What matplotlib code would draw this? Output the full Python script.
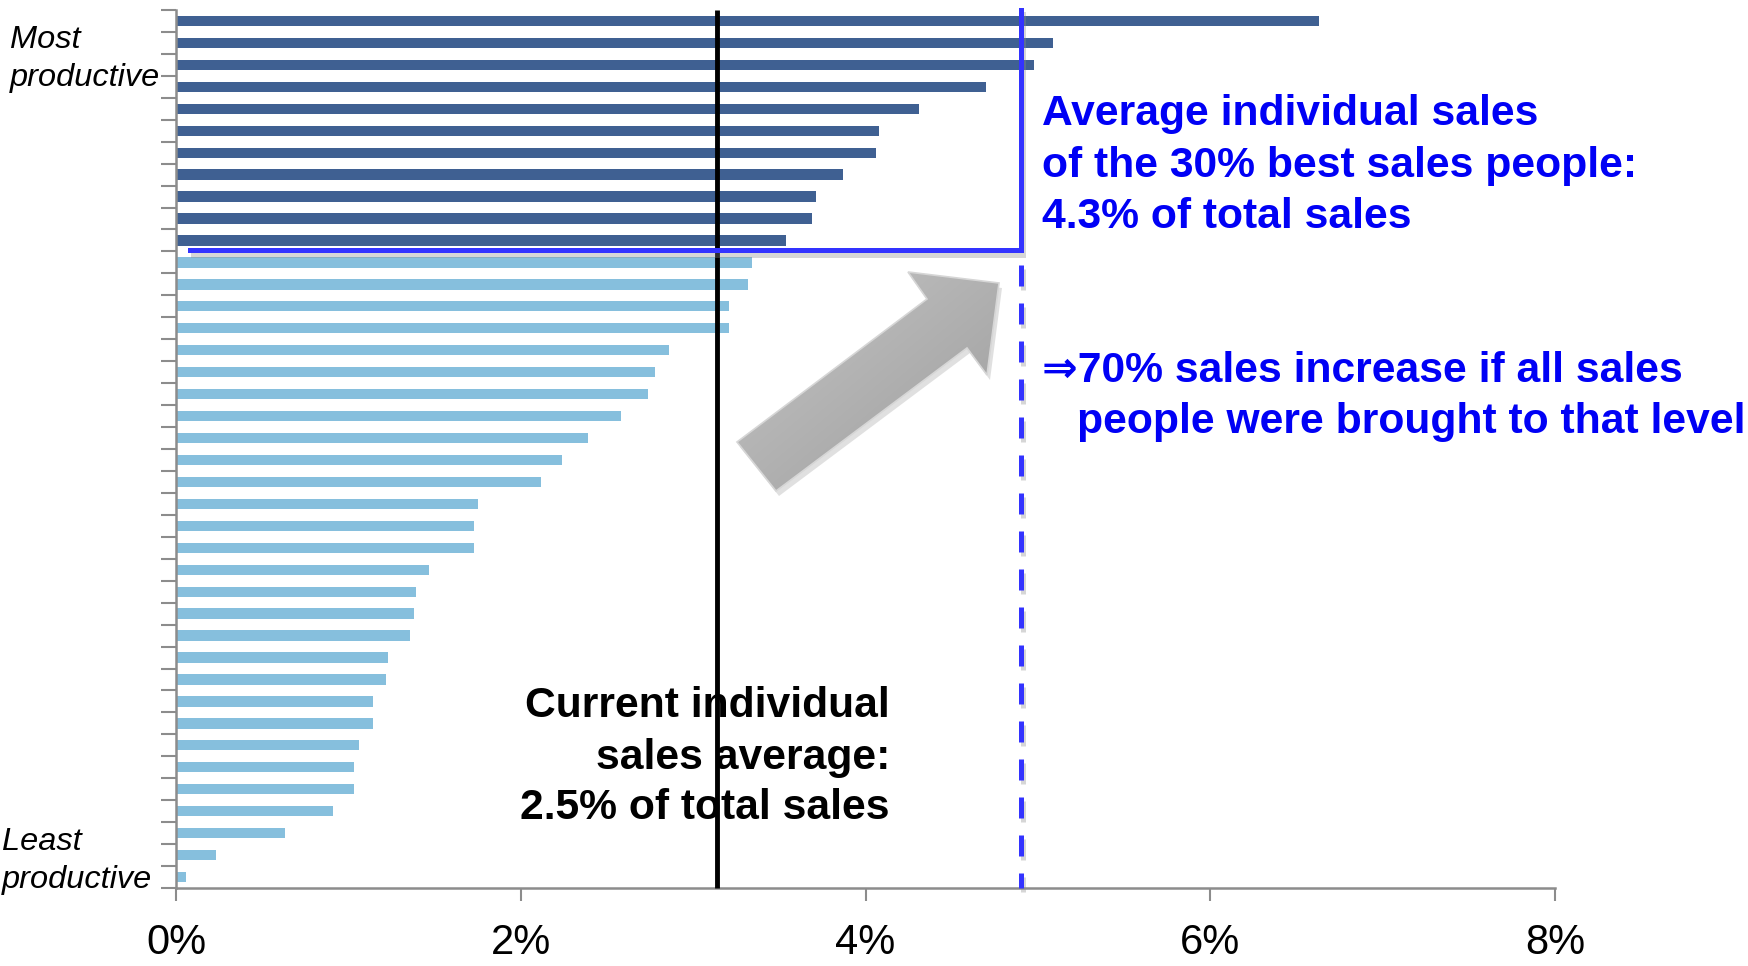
import numpy as np
import matplotlib
matplotlib.use("Agg")
import matplotlib.pyplot as plt
import matplotlib.patheffects as pe
from matplotlib.patches import Polygon

plt.rcParams["font.family"] = ["Liberation Sans", "DejaVu Sans"]

# share of total sales per sales person, most productive first
sales_share = [6.63, 5.09, 4.98, 4.70, 4.31, 4.08, 4.06, 3.87, 3.71, 3.69, 3.54,
               3.34, 3.32, 3.21, 3.21, 2.86, 2.78, 2.74, 2.58, 2.39, 2.24, 2.12,
               1.75, 1.73, 1.73, 1.47, 1.39, 1.38, 1.36, 1.23, 1.22, 1.14, 1.14,
               1.06, 1.03, 1.03, 0.91, 0.63, 0.23, 0.06]
n_top = 11                      # bars shaded dark
x_ticks = [0, 2, 4, 6, 8]
x_ticklabels = ["0%", "2%", "4%", "6%", "8%"]
avg_line = 3.14                 # reference line "current average"
target_line = 4.90              # reference line "top performers"

DARK = "#3f6092"
LIGHT = "#86bfdd"
BLUE = "#3333ff"
TXT_BLUE = "#0000f5"
GRAY = "#8c8c8c"

W, H = 1748, 966
fig = plt.figure(figsize=(W / 100, H / 100), dpi=100)

# overlay in pixel coordinates for free-floating annotations
ov = fig.add_axes([0, 0, 1, 1], zorder=0)
ov.set_xlim(0, W)
ov.set_ylim(H, 0)
ov.axis("off")

ax = fig.add_axes([176 / W, 1 - 888 / H, (1555 - 176) / W, (888 - 10) / H], zorder=1)
ax.patch.set_alpha(0)

n = len(sales_share)
ypos = np.arange(n)
colors = [DARK if i < n_top else LIGHT for i in range(n)]
ax.barh(ypos, sales_share, height=0.47, color=colors, zorder=2)

ax.set_ylim(n - 0.5, -0.5)
ax.set_xlim(0, 8)
ax.set_yticks(np.arange(n + 1) - 0.5)
ax.set_yticklabels([])
ax.set_xticks(x_ticks)
ax.set_xticklabels(x_ticklabels, fontsize=30)
ax.tick_params(axis="y", length=11, width=1.5, color=GRAY, direction="out")
ax.tick_params(axis="x", length=9.5, width=1.5, color=GRAY, direction="out", pad=16)
for s in ["top", "right"]:
    ax.spines[s].set_visible(False)
for s in ["left", "bottom"]:
    ax.spines[s].set_color(GRAY)
    ax.spines[s].set_linewidth(1.8)

# current average
ax.plot([avg_line, avg_line], [-0.5, n - 0.5], color="black", lw=3.5, zorder=5,
        solid_capstyle="butt", clip_on=False)

# top-30% bracket and its dashed continuation
shadow = [pe.SimpleLineShadow(offset=(2, -3), shadow_color="0.55", alpha=0.35), pe.Normal()]
ax.plot([0.08, target_line, target_line], [n_top - 0.55, n_top - 0.55, -0.5],
        color=BLUE, lw=3.6, zorder=6, solid_joinstyle="miter", clip_on=False,
        path_effects=shadow)
ax.plot([target_line, target_line], [n_top + 0.1, n - 0.5], color=BLUE, lw=3.6,
        linestyle=(0, (4.2, 3.4)), zorder=6, clip_on=False, path_effects=shadow)

# side labels
ov.text(10, 40, "Most", fontsize=23.4, style="italic", va="center", ha="left")
ov.text(10, 78, "productive", fontsize=23.4, style="italic", va="center", ha="left")
ov.text(2, 842, "Least", fontsize=23.4, style="italic", va="center", ha="left")
ov.text(2, 880, "productive", fontsize=23.4, style="italic", va="center", ha="left")

# annotations
FS = 30.7
for y, line in zip([706, 758, 808],
                   ["Current individual", "sales average:", "2.5% of total sales"]):
    ov.text(890, y, line, fontsize=FS, fontweight="bold", ha="right", va="center")

for y, line in zip([114, 166, 217],
                   ["Average individual sales", "of the 30% best sales people:",
                    "4.3% of total sales"]):
    ov.text(1042, y, line, fontsize=FS, fontweight="bold", color=TXT_BLUE,
            ha="left", va="center")

ov.text(1042, 371, "\u21d270% sales increase if all sales", fontsize=FS,
        fontweight="bold", color=TXT_BLUE, ha="left", va="center")
ov.text(1077, 422, "people were brought to that level", fontsize=FS,
        fontweight="bold", color=TXT_BLUE, ha="left", va="center")

# block arrow with gradient fill
arrow_pts = np.array([(737, 442), (927, 299), (908, 272), (999, 283),
                      (987, 375), (967, 348), (776, 491)])
shadow_poly = Polygon(arrow_pts + np.array([3, 5]), closed=True, fc="0.7",
                      ec="none", alpha=0.4, zorder=1)
ov.add_patch(shadow_poly)
gx, gy = np.meshgrid(np.linspace(0, 1, 200), np.linspace(0, 1, 200))
shade = 0.78 - 0.17 * (gx + gy) / 2
rgb = np.dstack([shade, shade, shade])
img = ov.imshow(rgb, extent=(730, 1005, 495, 265), zorder=2,
                interpolation="bilinear", aspect="auto")
img.set_clip_path(Polygon(arrow_pts, closed=True, transform=ov.transData))
ov.add_patch(Polygon(arrow_pts, closed=True, fc="none", ec="#d6d6d6", lw=1.2, zorder=3))
ov.set_xlim(0, W)
ov.set_ylim(H, 0)

fig.savefig("out.png", dpi=100)
